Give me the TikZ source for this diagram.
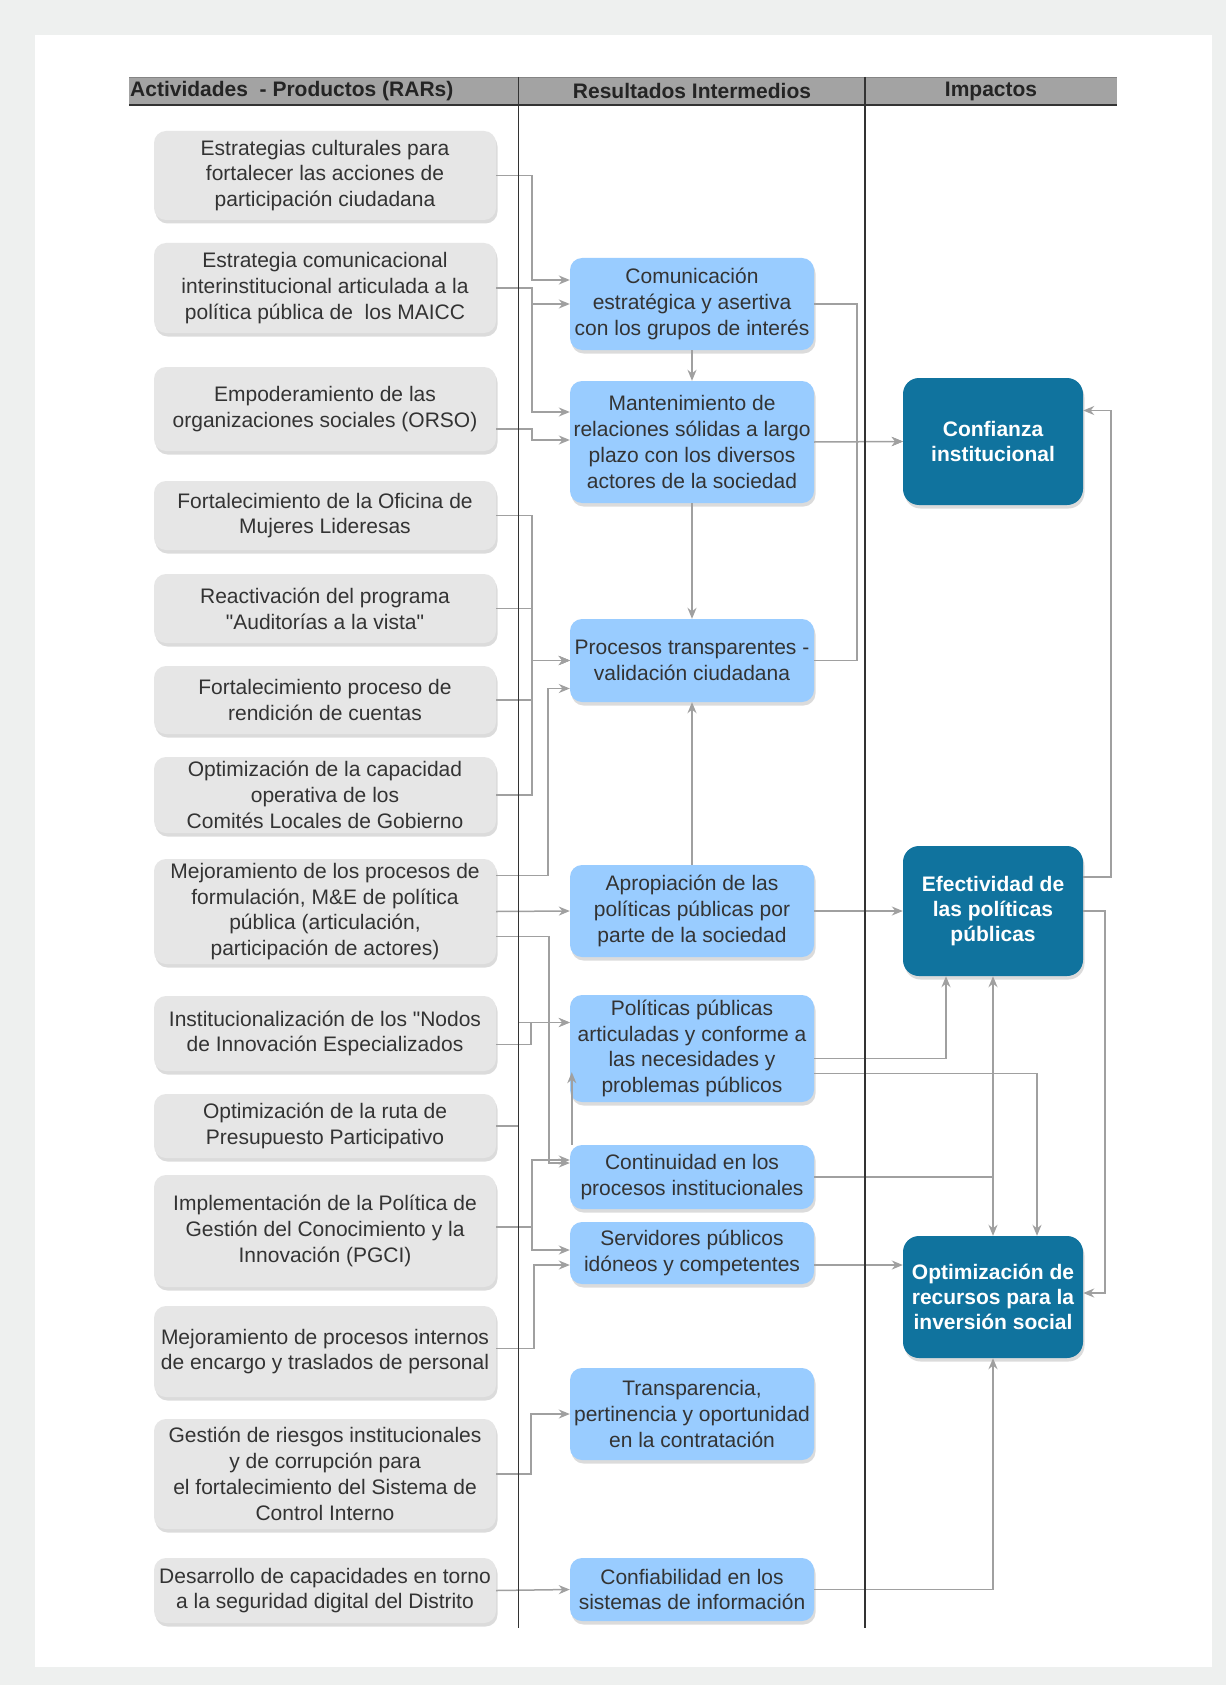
\documentclass[tikz,border=0pt]{standalone}
\usepackage{fontspec}
\setmainfont{Liberation Sans}
\usetikzlibrary{arrows.meta, calc, shadows, positioning}
\definecolor{paper}{HTML}{EEF0EF}
\definecolor{ink}{HTML}{333333}
\definecolor{wgrey}{HTML}{E6E6E6}
\definecolor{wsky}{HTML}{99CCFF}
\definecolor{wteal}{HTML}{10739E}
\definecolor{wlink}{HTML}{A0A0A0}
\definecolor{whead}{HTML}{A3A3A3}
\tikzset{el/.style={line cap=butt, line join=miter},
  txt/.style={font=\fontsize{21}{25.8}\selectfont, align=center, text=ink, inner sep=1pt},
  shade/.style={drop shadow={shadow xshift=1.5pt, shadow yshift=-3.5pt, opacity=0.28}},
  actbox/.style={txt, shade, fill=wgrey, rounded corners=12pt, minimum width=342pt},
  resbox/.style={txt, shade, fill=wsky, rounded corners=12pt, minimum width=244pt},
  impbox/.style={txt, shade, fill=wteal, text=white, font=\fontsize{21}{25.3}\selectfont\bfseries,
                 rounded corners=16pt, minimum width=180pt},
  headtxt/.style={font=\fontsize{21}{25}\selectfont\bfseries, text=ink!70!black, inner sep=0pt},
  wire/.style={wlink, line width=1.5pt, -{Stealth[length=11pt, width=9pt]}},
  divider/.style={ink, line width=1.5pt}}

\begin{document}
\begin{tikzpicture}[el, x=1pt, y=-1pt]
  \useasboundingbox (0,0) rectangle (1226,1685);
  \fill[paper] (0,0) rectangle (1226,1685);
  \fill[white] (35,35) rectangle (1212,1667);
  % header
  \fill[whead] (129,77) rectangle (1117,105);
  \draw[ink!60, line width=0.8pt] (129,77)--(1117,77);
  \draw[ink, line width=2pt] (129,105)--(1117,105);
  \node[headtxt, anchor=west] (hact) at (130,91) {Actividades~ - Productos (RARs)};
  \node[headtxt] (hres) at (692,91) {Resultados Intermedios};
  \node[headtxt] (himp) at (991,91) {Impactos};

  % actividades - productos
  \foreach \bn/\by/\bh/\bt in {
    r1/175.5/89/{Estrategias culturales para\\fortalecer las acciones de\\participación ciudadana},
    r2/288/90/{Estrategia comunicacional\\interinstitucional articulada a la\\política pública de~ los MAICC},
    r3/409/84/{Empoderamiento de las\\organizaciones sociales (ORSO)},
    r4/515.5/69/{Fortalecimiento de la Oficina de\\Mujeres Lideresas},
    r5/608.5/69/{Reactivación del programa\\\textquotedbl Auditorías a la vista\textquotedbl},
    r6/700/68/{Fortalecimiento proceso de\\rendición de cuentas},
    r7/795/76/{Optimización de la capacidad\\operativa de los\\Comités Locales de Gobierno},
    r8/911.5/105/{Mejoramiento de los procesos de\\formulación, M\&E de política\\pública (articulación,\\participación de actores)},
    r9/1033.5/75/{Institucionalización de los \textquotedbl Nodos\\de Innovación Especializados},
    r10/1126/64/{Optimización de la ruta de\\Presupuesto Participativo},
    r11/1231/112/{Implementación de la Política de\\Gestión del Conocimiento y la\\Innovación (PGCI)},
    r12/1351.5/91/{Mejoramiento de procesos internos\\de encargo y traslados de personal},
    r13/1474/110/{Gestión de riesgos institucionales\\y de corrupción para\\el fortalecimiento del Sistema de\\Control Interno},
    r14/1590.5/65/{Desarrollo de capacidades en torno\\a la seguridad digital del Distrito}}{
     \node[actbox, minimum height=\bh pt] (\bn) at (325,\by) {\bt};}

  % resultados intermedios
  \foreach \bn/\by/\bh/\bt in {
    m1/304/92/{Comunicación\\estratégica y asertiva\\con los grupos de interés},
    m2/442/122/{Mantenimiento de\\relaciones sólidas a largo\\plazo con los diversos\\actores de la sociedad},
    m3/660.5/83/{Procesos transparentes -\\validación ciudadana},
    m4/911/92/{Apropiación de las\\políticas públicas por\\parte de la sociedad},
    m5/1048.5/107/{Políticas públicas\\articuladas y conforme a\\las necesidades y\\problemas públicos},
    m6/1177/64/{Continuidad en los\\procesos institucionales},
    m7/1253/62/{Servidores públicos\\idóneos y competentes},
    m8/1414/92/{Transparencia,\\pertinencia y oportunidad\\en la contratación},
    m9/1589.5/63/{Confiabilidad en los\\sistemas de información}}{
     \node[resbox, minimum height=\bh pt] (\bn) at (692,\by) {\bt};}

  % impactos
  \node[impbox, minimum height=127pt] (i1) at (993,441.5) {Confianza\\institucional};
  \node[impbox, minimum height=130pt] (i2) at (993,911) {Efectividad de\\las políticas\\públicas};
  \node[impbox, minimum height=122pt] (i3) at (993,1297) {Optimización de\\recursos para la\\inversión social};

  % actividades -> resultados
  \draw[wire] (r1.east) -- ++(36,0) |- ([yshift=24pt]m1.west);
  \draw[wire] (r2.east) -- ++(36,0) |- (m1.west);
  \draw[wire] (r2.east) -- ++(36,0) |- ([yshift=30pt]m2.west);
  \draw[wire] ([yshift=-20pt]r3.east) -- ++(36,0) |- ([yshift=2pt]m2.west);
  \foreach \src in {r4, r5, r6, r7}
     \draw[wire] (\src.east) -- ++(36,0) |- (m3.west);
  \draw[wire] ([yshift=36pt]r8.east) -- ++(52,0) |- ([yshift=-28pt]m3.west);
  \draw[wire] (r8.east) -- (m4.west);
  \draw[wire] ([yshift=-25pt]r8.east) -- ++(53,0) |- ([yshift=14pt]m6.west);
  \draw[wire] ([yshift=-11pt]r9.east) -- ++(35,0) |- ([yshift=26pt]m5.west);
  \draw[wire] (r10.east) -- ++(22.5,0) |- ([yshift=26pt]m5.west);
  \draw[wire] ([yshift=4pt]r11.east) -- ++(36,0) |- ([yshift=17pt]m6.west);
  \draw[wire] ([yshift=4pt]r11.east) -- ++(36,0) |- ([yshift=3pt]m7.west);
  \draw[wire] ([yshift=3pt]r12.east) -- ++(38,0) |- ([yshift=-12pt]m7.west);
  \draw[wire] (r13.east) -- ++(35,0) |- (m8.west);
  \draw[wire] (r14.east) -- (m9.west);

  % resultados -> resultados
  \draw[wire] (m1.south) -- (m2.north);
  \draw[wire] (m2.south) -- (m3.north);
  \draw[wire] (m4.north) -- (m3.south);
  \draw[wire] ([xshift=2pt]m6.north west) -- ([xshift=2pt,yshift=30pt]m5.south west);

  % resultados -> impactos
  \draw[wire] (m1.east) -- ++(43,0) |- (i1.west);
  \draw[wire] (m2.east) -- (i1.west);
  \draw[wire] (m3.east) -- ++(43,0) |- (i1.west);
  \draw[wire] (m4.east) -- (i2.west);
  \draw[wire] ([yshift=-10pt]m5.east) -| ([xshift=-47pt]i2.south);
  \draw[wire] ([yshift=-25pt]m5.east) -| ([xshift=44pt]i3.north);
  \draw[wire] (m6.east) -| (i2.south);
  \draw[wire] (m6.east) -| (i3.north);
  \draw[wire] ([yshift=-12pt]m7.east) -- ([yshift=-12pt]m7.east -| i3.west);
  \draw[wire] (m9.east) -| (i3.south);

  % impactos -> impactos
  \draw[wire] ([yshift=34pt]i2.east) -- ++(28,0) |- ([yshift=31pt]i1.east);
  \draw[wire] (i2.east) -- ++(22,0) |- ([yshift=4pt]i3.east);

  % column rules on top
  \draw[divider] (518.5,77)--(518.5,1628);
  \draw[divider] (865,77)--(865,1628);
\end{tikzpicture}
\end{document}
